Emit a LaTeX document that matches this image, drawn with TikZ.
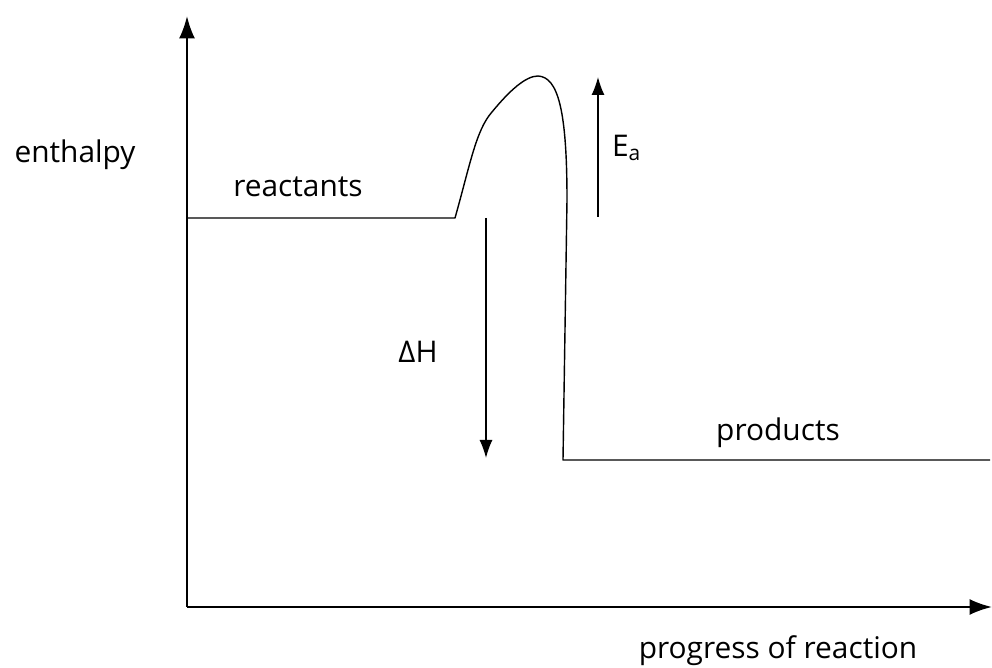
\documentclass[tikz,border=0pt]{standalone}
\usepackage{fontspec}
\setmainfont{Open Sans}
\usepackage{tikz}
\usetikzlibrary{arrows.meta,positioning}
\tikzset{
  >={Latex[length=4.5mm,width=3.2mm]},
  axis/.style={line width=1.2pt, ->},
  level/.style={line width=0.8pt},
  gap/.style={line width=0.8pt, ->, >={Latex[length=3.6mm,width=2.6mm]}},
  lbl/.style={font=\fontsize{17}{19}\selectfont, inner sep=1pt},
}

\begin{document}
\begin{tikzpicture}[x=0.02cm, y=-0.02cm]
  \useasboundingbox (0,0) rectangle (992,668);
  % axes
  \coordinate (orig) at (187,607);
  \coordinate (ytop) at (187,16);
  \coordinate (xend) at (992,607);
  \draw[axis] (orig) -- (ytop);
  \draw[axis] (orig) -- (xend);

  % enthalpy profile
  \coordinate (r0) at (187,218);
  \coordinate (r1) at (455,218);
  \coordinate (peak) at (538,76);
  \coordinate (p0) at (563,460);
  \coordinate (p1) at (990,460);
  \draw[level, line join=round] (r0) -- (r1)
    .. controls (470,165) and (476,130) .. (492,112)
    .. controls (510,90) and (526,76) .. (peak)
    .. controls (558,77) and (567,110) .. (567,200)
    -- (p0) -- (p1);

  % energy changes
  \coordinate (eabot) at (598,217);
  \coordinate (eatop) at (598,77);
  \draw[gap] (eabot) -- (eatop);
  \coordinate (dhtop) at (486,218);
  \coordinate (dhbot) at (486,458);
  \draw[gap] (dhtop) -- (dhbot);

  % labels
  \node[lbl] (enthalpy) at (75,155) {enthalpy};
  \node[lbl] (reactants) at (298,187) {reactants};
  \node[lbl] (products) at (778,433) {products};
  \node[lbl] (progress) at (778,651) {progress of reaction};
  \node[lbl, anchor=west] (ea) at (610,148) {E\textsubscript{a}};
  \node[lbl] (dh) at (418,352) {ΔH};
\end{tikzpicture}
\end{document}
